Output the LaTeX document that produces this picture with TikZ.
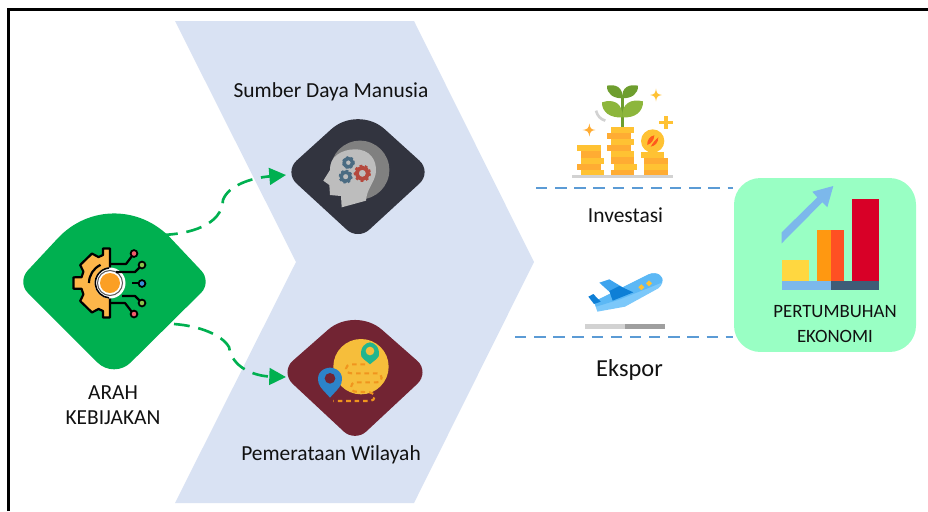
\documentclass[tikz,border=0pt]{standalone}
\usepackage{fontspec}
\setmainfont{Carlito}
\usetikzlibrary{arrows.meta,calc}
\definecolor{chev}{HTML}{D9E2F3}
\definecolor{gr}{HTML}{00B050}
\definecolor{dk}{HTML}{32343F}
\definecolor{mar}{HTML}{722433}
\definecolor{mint}{HTML}{99FFC4}
\definecolor{dash}{HTML}{5B9BD5}
\definecolor{txt}{HTML}{111111}
\definecolor{gold}{HTML}{FFC233}
\definecolor{gold2}{HTML}{FFAC33}
\definecolor{leafa}{HTML}{6E9E2E}
\definecolor{leafb}{HTML}{8DB63C}
\definecolor{cgold}{HTML}{FDB64A}
\definecolor{cora}{HTML}{FB9F24}
\definecolor{hgray}{HTML}{808080}
\definecolor{hlight}{HTML}{BDBDBD}
\definecolor{gblue}{HTML}{4A6B82}
\definecolor{gred}{HTML}{B5483D}
\definecolor{myel}{HTML}{F6BE3B}
\definecolor{mteal}{HTML}{22B58E}
\definecolor{mblue}{HTML}{2C83C9}
\definecolor{mdot}{HTML}{F0951E}
\definecolor{psky}{HTML}{5CB8F5}
\definecolor{psky2}{HTML}{7CC8FA}
\definecolor{pmid}{HTML}{3EA4EE}
\definecolor{pdark}{HTML}{0E7FD6}
\definecolor{cyel}{HTML}{FFD740}
\definecolor{cor1}{HTML}{FF9811}
\definecolor{cor2}{HTML}{FF5023}
\definecolor{cred}{HTML}{D80027}
\definecolor{clb}{HTML}{7CB8EB}
\definecolor{cdb}{HTML}{3F5C77}
\definecolor{nred}{HTML}{F25B6A}
\definecolor{ngreen}{HTML}{8BC34A}
\definecolor{nblue}{HTML}{3A8FDB}
\newcommand{\rdia}[8]{%
 \fill[#1] ($(#2)!#6!(#5)$) .. controls ($(#2)!#6*0.45!(#5)$) and ($(#2)!#6*0.45!(#3)$) .. ($(#2)!#6!(#3)$)
 -- ($(#3)!#7!(#2)$) .. controls ($(#3)!#7*0.45!(#2)$) and ($(#3)!#7*0.45!(#4)$) .. ($(#3)!#7!(#4)$)
 -- ($(#4)!#8!(#3)$) .. controls ($(#4)!#8*0.45!(#3)$) and ($(#4)!#8*0.45!(#5)$) .. ($(#4)!#8!(#5)$)
 -- ($(#5)!#7!(#4)$) .. controls ($(#5)!#7*0.45!(#4)$) and ($(#5)!#7*0.45!(#2)$) .. ($(#5)!#7!(#2)$) -- cycle;}
\tikzset{
  lbl/.style={text=txt,inner sep=0pt,align=center,font=\fontsize{12.2}{14.3}\selectfont},
  curveconn/.style={draw=gr,line width=1.5pt,dash pattern=on 9pt off 5pt,-{Triangle[length=9.5pt,width=9.5pt,fill=gr]}},
  hdash/.style={draw=dash,line width=1.35pt,dash pattern=on 6.5pt off 4.4pt},
  zoomA/.style={x=0.00667cm,y=-0.00667cm},
  circuit/.style={draw=black,line width=1.25pt,line join=round},
  pad/.style={draw=black,line width=1pt,fill=#1},
}
\begin{document}
\begin{tikzpicture}[x=0.02cm,y=-0.02cm]
\useasboundingbox (0,0) rectangle (928,511);
\draw[line width=1.7pt,black] (8.5,511) -- (8.5,9.5) -- (928,9.5);
% chevron
\fill[chev] (175,21) -- (414,21) -- (534,262) -- (414,503) -- (175,503) -- (296,262) -- cycle;
% diamonds
\coordinate (gT) at (114,178); \coordinate (gR) at (212,282); \coordinate (gB) at (114,379); \coordinate (gL) at (17,282);
\rdia{gr}{gT}{gR}{gB}{gL}{0.58}{0.11}{0.17}
\coordinate (dT) at (358,105); \coordinate (dR) at (432,172); \coordinate (dB) at (358,240); \coordinate (dL) at (284,172);
\rdia{dk}{dT}{dR}{dB}{dL}{0.36}{0.17}{0.15}
\coordinate (mT) at (355,306); \coordinate (mR) at (430,372); \coordinate (mB) at (355,442); \coordinate (mL) at (280,372);
\rdia{mar}{mT}{mR}{mB}{mL}{0.36}{0.17}{0.15}
% mint box
\node[fill=mint,rounded corners=15pt,minimum width=3.64cm,minimum height=3.48cm,inner sep=0pt] (eco) at (825,265) {};
% gear icon
\begin{scope}[shift={(109,283)}]
\filldraw[fill=cgold,draw=black,line width=1.25pt,line join=round]
 (1,-34.5) -- (-6,-34.5) -- (-6,-28) -- (-112:28) -- (-120:34) -- (-148:34) -- (-156:28) -- (-168:28)
 -- (-171:36) -- (171:36) -- (168:28) -- (156:28) -- (148:34) -- (120:34) -- (112:28) -- (-6,28) -- (-6,34.5) -- (1,34.5) -- cycle;
\draw[black,line width=1.25pt] (-115:20) arc[start angle=-115,end angle=-180,radius=20];
\fill[white] (1,0) circle (15.5);
\draw[gray!70!black,line width=0.6pt] (1,0) circle (12.5);
\fill[cora] (1,0) circle (10);
\draw[black,line width=0.9pt] (0,-15) arc[start angle=-95,end angle=-265,radius=15];
\end{scope}
\draw[circuit] (110,264) -- (126,264) -- (132,256);
\draw[circuit] (116,272) -- (135,272) -- (140,267);
\draw[circuit] (132,283) -- (139,283);
\draw[circuit] (122,296) -- (135,296) -- (140,301);
\draw[circuit] (110,303) -- (125,303) -- (132,312);
\draw[pad=nred] (134,253.5) circle (3.4);
\draw[pad=ngreen] (142,265) circle (3.4);
\draw[pad=nblue] (142,283.5) circle (3.4);
\draw[pad=ngreen] (142,303) circle (3.4);
\draw[pad=nred] (134,314) circle (3.4);
% head icon
\begin{scope}[shift={(270,110)},zoomA]
\fill[hgray] (270,180) circle (88);
\fill[hlight] (215,292) -- (213,258) -- (180,255) -- (178,225) -- (160,212) -- (180,180) .. controls (178,140) and (215,118) .. (255,118) .. controls (300,118) and (320,150) .. (318,185) .. controls (316,215) and (290,235) .. (288,272) -- cycle;
\draw[gblue,line width=1.9pt] (235,158) circle (12.5);
\draw[gblue,line width=1.3pt,dash pattern=on 1.3pt off 1.3pt] (235,158) circle (16.5);
\draw[gblue,line width=1.9pt] (227,200) circle (13.5);
\draw[gblue,line width=1.3pt,dash pattern=on 1.3pt off 1.3pt] (227,200) circle (17.5);
\draw[gred,line width=2.2pt] (277,190) circle (17);
\draw[gred,line width=1.5pt,dash pattern=on 1.5pt off 1.5pt] (277,190) circle (22);
\end{scope}
% map icon
\begin{scope}[shift={(270,315)},zoomA]
\fill[myel] (273,155) circle (83);
\fill[mteal] (274,124) .. controls (268,95) and (290,82) .. (300,82) .. controls (310,82) and (332,95) .. (326,124) .. controls (320,134) and (308,140) .. (300,148) .. controls (292,140) and (280,134) .. (274,124) -- cycle;
\fill[myel] (300,108) circle (13);
\fill[mblue] (146,205) .. controls (136,170) and (165,158) .. (180,158) .. controls (195,158) and (224,170) .. (214,205) .. controls (208,222) and (190,235) .. (180,248) .. controls (170,235) and (152,222) .. (146,205) -- cycle;
\fill[mar] (180,190) circle (16);
\draw[mdot,line width=1.2pt,dash pattern=on 2.6pt off 2.2pt] (285,148) -- (245,148) .. controls (222,148) and (222,175) .. (245,175) -- (320,175) .. controls (340,175) and (340,202) .. (320,202) -- (258,202) .. controls (238,202) and (238,230) .. (258,230) -- (300,232) .. controls (318,234) and (318,258) .. (300,258) -- (190,258);
\end{scope}
% coins icon
\begin{scope}[shift={(560,80)},zoomA]
\foreach \a/\b/\c/\d/\col in {52/195/122/214/gold,62/213/122/234/gold2,62/233/132/253/gold,52/252/122/271/gold2,62/270/132/285/gold,
 152/140/222/159/gold,142/158/212/178/gold2,152/177/222/196/gold,142/195/212/214/gold2,152/213/222/233/gold,152/232/222/253/gold2,162/252/232/271/gold,152/270/222/285/gold2,
 243/215/313/234/gold,253/233/323/253/gold2,253/252/323/271/gold,253/270/323/285/gold2}
 \fill[color=\col] (\a,\b) rectangle (\c,\d);
\fill[gray!35] (36,285) rectangle (339,295);
\fill[leafa] (182,45) rectangle (192,140);
\fill[leafa] (187,55) .. controls (190,20) and (165,12) .. (141,17) .. controls (140,42) and (160,55) .. (187,55) -- cycle;
\fill[leafa] (187,55) .. controls (184,20) and (209,12) .. (234,17) .. controls (235,42) and (215,55) .. (187,55) -- cycle;
\fill[leafb] (187,112) .. controls (190,70) and (160,55) .. (126,67) .. controls (125,95) and (150,115) .. (187,112) -- cycle;
\fill[leafb] (187,112) .. controls (184,70) and (214,55) .. (249,64) .. controls (250,95) and (225,115) .. (187,112) -- cycle;
\fill[gold] (278,183) circle (35);
\fill[cor2!80!orange] (262,195) .. controls (260,180) and (270,168) .. (283,166) .. controls (282,180) and (275,190) .. (262,195) -- cycle;
\fill[cor2!80!orange] (272,200) .. controls (285,198) and (295,188) .. (295,172) .. controls (285,180) and (278,190) .. (272,200) -- cycle;
\fill[gold2] (88,130) .. controls (90,145) and (93,148) .. (106,150) .. controls (93,152) and (90,155) .. (88,170) .. controls (86,155) and (83,152) .. (68,150) .. controls (83,148) and (86,145) .. (88,130) -- cycle;
\fill[gold] (288,26) .. controls (290,41) and (293,43) .. (306,45) .. controls (293,47) and (290,50) .. (288,64) .. controls (286,50) and (283,47) .. (270,45) .. controls (283,43) and (286,41) .. (288,26) -- cycle;
\fill[gold] (313,109) rectangle (323,148);
\fill[gold] (298,123) rectangle (339,133);
\draw[gray!35,line width=1.5pt] (108,92) .. controls (112,108) and (122,118) .. (136,122);
\end{scope}
% plane icon
\begin{scope}[shift={(570,260)},zoomA]
\fill[psky2] (72,125) -- (82,155) -- (165,140) -- (265,85) .. controls (290,65) and (275,35) .. (245,40) -- cycle;
\fill[psky] (72,125) -- (235,43) .. controls (262,32) and (285,50) .. (275,68) -- (150,118) -- (78,140) -- cycle;
\fill[pmid] (88,68) -- (118,58) -- (175,92) -- (120,97) -- cycle;
\fill[pdark] (118,93) -- (148,78) -- (190,97) -- (128,122) -- cycle;
\fill[pdark] (55,110) -- (70,102) -- (92,125) -- (72,132) -- cycle;
\fill[gold] (214,73) -- (223,82) -- (214,91) -- (205,82) -- cycle;
\fill[gold] (237,61) -- (246,70) -- (237,79) -- (228,70) -- cycle;
\fill[gray!35] (45,193) rectangle (165,208);
\fill[gray!75] (165,193) rectangle (285,208);
\end{scope}
% chart icon
\fill[cyel] (782,260) rectangle (809,281);
\fill[cor1] (817,230) rectangle (830.5,281);
\fill[cor2] (830.5,230) rectangle (844,281);
\fill[cred] (852,199) rectangle (879,281);
\fill[clb] (782,281) rectangle (830.5,290);
\fill[cdb] (830.5,281) rectangle (879,290);
\fill[clb] (781.7,243.3) -- (781.7,232.3) -- (817.3,197.3) -- (812.3,191.7) -- (833.3,186) -- (827.3,207.3) -- (822.3,202.3) -- cycle;
% labels
\node[lbl] (sdm) at (331,92) {Sumber Daya Manusia};
\node[lbl] (wil) at (331,454.5) {Pemerataan Wilayah};
\node[lbl] (arah) at (113,405.5) {ARAH\\KEBIJAKAN};
\node[lbl] (inv) at (625.5,215.5) {Investasi};
\node[lbl,font=\fontsize{13.9}{16}\selectfont] (eks) at (629.5,369.5) {Ekspor};
\node[lbl,font=\fontsize{10.7}{14}\selectfont] (pe) at (835,324) {PERTUMBUHAN\\EKONOMI};
% connectors
\coordinate (hd) at (286,175);
\coordinate (mp) at (286,377);
\coordinate (gs1) at (162,235);
\coordinate (gs2) at (174,324);
\draw[curveconn] (gs1) .. controls (190,234) and (222,225) .. (223,200) .. controls (228,186) and (250,178) .. (hd);
\draw[curveconn] (gs2) .. controls (200,326) and (222,335) .. (229,347) .. controls (232,368) and (255,376) .. (mp);
\coordinate (d1a) at (536,188);
\coordinate (d1b) at (733,188);
\coordinate (d2a) at (515,337);
\coordinate (d2b) at (733,337);
\draw[hdash] (d1a) -- (d1b);
\draw[hdash] (d2a) -- (d2b);
\end{tikzpicture}
\end{document}
